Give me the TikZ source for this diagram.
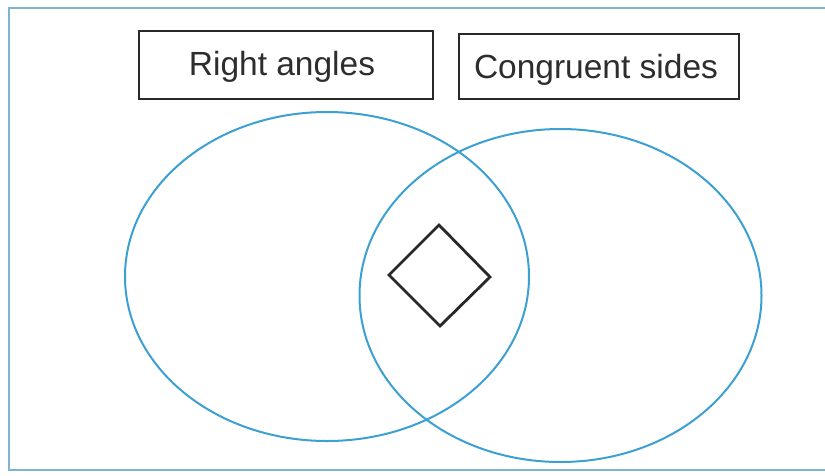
\documentclass[tikz,border=0pt]{standalone}
\usepackage{fontspec}
\setmainfont{Liberation Sans}
\begin{document}
\begin{tikzpicture}[x=1pt,y=-1pt,
  frame/.style={draw=framebl,line width=2.2pt},
  label box/.style={draw=boxgray,line width=2.8pt,inner sep=0pt},
  label text/.style={text=textgray,font=\fontsize{33.5}{38}\selectfont,anchor=base},
  set/.style={draw=setbl,line width=2pt},
  shapeline/.style={draw=boxgray,line width=2.8pt,line join=miter}]
\definecolor{framebl}{RGB}{125,180,210}
\definecolor{setbl}{RGB}{60,160,210}
\definecolor{boxgray}{RGB}{40,40,40}
\definecolor{textgray}{RGB}{45,45,45}
\useasboundingbox (0,0) rectangle (825,475);
\fill[white] (0,0) rectangle (825,475);
\begin{scope}
\clip (0,0) rectangle (825,475);
\draw[frame] (9,8) rectangle (840,470);
\end{scope}
\node[label box,minimum width=294pt,minimum height=68pt] (ra) at (286,65) {};
\node[label box,minimum width=280pt,minimum height=65pt] (cs) at (599,66.5) {};
\node[label text] (rat) at (282,75) {Right angles};
\node[label text] (cst) at (596,78) {Congruent sides};
\draw[set] (327,276.5) ellipse [x radius=202, y radius=164.5];
\draw[set] (560.5,295.5) ellipse [x radius=201, y radius=166.5];
\coordinate (dt) at (439,225);
\coordinate (dl) at (389,275);
\coordinate (db) at (440,326);
\coordinate (dr) at (490,277);
\draw[shapeline] (dt) -- (dr) -- (db) -- (dl) -- cycle;
\end{tikzpicture}
\end{document}
